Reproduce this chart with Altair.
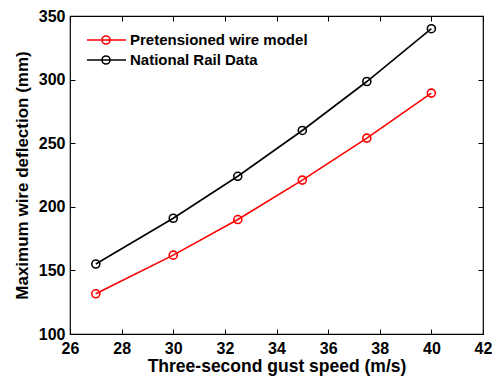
import altair as alt
import pandas as pd

speed = [27, 30, 32.5, 35, 37.5, 40]
pretensioned = [131.6, 162, 190, 221, 254, 289.4]
national_rail = [155, 191, 224, 260, 298.5, 340]
series_names = ["Pretensioned wire model", "National Rail Data"]
series_colors = ["#ff0000", "#000000"]
x_ticks = [26, 28, 30, 32, 34, 36, 38, 40, 42]
y_ticks = [100, 150, 200, 250, 300, 350]

rows = []
for s, a, b in zip(speed, pretensioned, national_rail):
    rows.append({"speed": s, "deflection": a, "series": series_names[0]})
    rows.append({"speed": s, "deflection": b, "series": series_names[1]})
df = pd.DataFrame(rows)

FONT = "Liberation Sans"
W, H = 413, 318
TOP = 8

xscale = alt.Scale(domain=[26, 42], nice=False, zero=False)
yscale = alt.Scale(domain=[100, 350], nice=False, zero=False)
color = alt.Color("series:N", scale=alt.Scale(domain=series_names, range=series_colors), legend=None)

x_main = alt.X("speed:Q", scale=xscale, axis=alt.Axis(
    values=x_ticks, title="Three-second gust speed (m/s)", orient="bottom",
    domain=False, tickSize=5, offset=-5, tickColor="black", tickWidth=1,
    labelPadding=6, labelFont=FONT, labelFontSize=16, labelFontWeight="bold", labelColor="black",
    titleFont=FONT, titleFontSize=17.5, titleFontWeight="bold", titleColor="black", titlePadding=1,
    grid=False, labelFlush=False))
y_main = alt.Y("deflection:Q", scale=yscale, axis=alt.Axis(
    values=y_ticks, title="Maximum wire deflection (mm)", orient="left",
    domain=False, tickSize=5, offset=-5, tickColor="black", tickWidth=1,
    labelPadding=5, labelFont=FONT, labelFontSize=16, labelFontWeight="bold", labelColor="black",
    titleFont=FONT, titleFontSize=17, titleFontWeight="bold", titleColor="black", titlePadding=7,
    grid=False, labelFlush=False))

x_top = alt.X("speed:Q", scale=xscale, axis=alt.Axis(
    values=x_ticks, title=None, orient="top", labels=False, domain=False,
    tickSize=5, offset=-5, tickColor="black", grid=False))
y_right = alt.Y("deflection:Q", scale=yscale, axis=alt.Axis(
    values=y_ticks, title=None, orient="right", labels=False, domain=False,
    tickSize=5, offset=-5, tickColor="black", grid=False))

lines = alt.Chart(df).mark_line(strokeWidth=1.6).encode(
    x=x_main, y=y_main, color=color, detail="series:N")
points = alt.Chart(df).mark_point(shape="circle", size=64, strokeWidth=1.6, filled=False, opacity=1).encode(
    x=x_top, y=y_right, color=color)

# manual legend
leg = pd.DataFrame({"series": series_names, "ypix": [40 - 8 - TOP, 60 - 8 - TOP],
                    "label": [series_names[0], " " + series_names[1]]})
leg_line = alt.Chart(leg).mark_rule(strokeWidth=1.6).encode(
    x=alt.value(87 - 70), x2=alt.value(126 - 70),
    y=alt.Y("ypix:Q", scale=None), color=color)
leg_pt = alt.Chart(leg).mark_point(shape="circle", size=64, strokeWidth=1.6, filled=False, opacity=1).encode(
    x=alt.value(106 - 70), y=alt.Y("ypix:Q", scale=None), color=color)
leg_text = alt.Chart(leg).mark_text(align="left", baseline="middle", font=FONT, fontSize=15,
                                    fontWeight="bold", color="black").encode(
    x=alt.value(130 - 70), y=alt.Y("ypix:Q", scale=None), text="label:N")

chart = alt.layer(lines, points, leg_line, leg_pt, leg_text).resolve_axis(
    x="independent", y="independent"
).properties(
    width=W, height=H,
    autosize=alt.AutoSizeParams(type="none"),
    padding={"left": 62, "top": TOP, "right": 9, "bottom": 42},
    background="white",
).configure_view(stroke="black", strokeWidth=1.2)

chart.save("out.html", embed_options={"renderer": "svg", "actions": False})
